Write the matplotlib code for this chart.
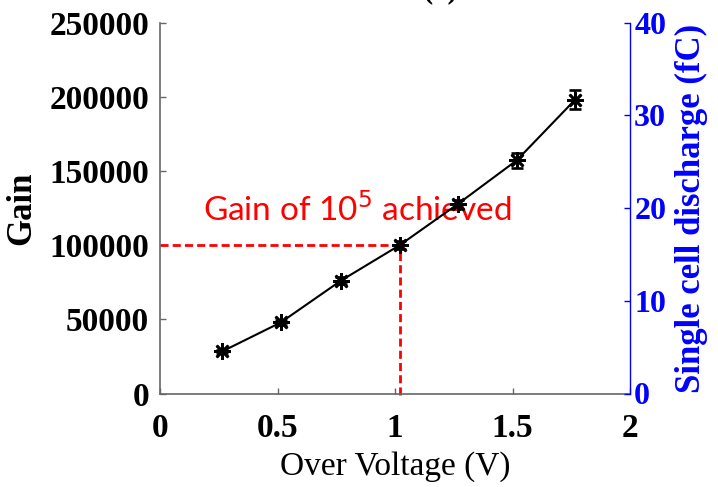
import matplotlib
matplotlib.use("Agg")
import matplotlib.pyplot as plt
import numpy as np

# Data
over_voltage = [0.265, 0.514, 0.770, 1.021, 1.267, 1.518, 1.766]
gain = [28400, 47900, 76100, 100100, 127700, 157200, 198000]
gain_err = [1200, 1500, 2500, 2500, 3000, 5000, 6500]
gain_target = 100000
target_voltage = 1.02
x_ticks = [0, 0.5, 1, 1.5, 2]
x_tick_labels = ["0", "0.5", "1", "1.5", "2"]
y_ticks = [0, 50000, 100000, 150000, 200000, 250000]
y2_ticks = [0, 10, 20, 30, 40]

SERIF = ['Liberation Serif', 'DejaVu Serif']
plt.rcParams['font.family'] = SERIF

fig = plt.figure(figsize=(7.18, 4.87), dpi=100)
ax = fig.add_axes([160/718, 1-393.5/487, 470/718, (393.5-22.7)/487])

ax.errorbar(over_voltage, gain, yerr=gain_err, color='black', lw=1.5,
            marker=(8, 2, 0), ms=12, mew=1.9, capsize=4, elinewidth=1.4,
            capthick=1.4, zorder=3)

dash = (0, (2.9, 1.5))
ax.plot([0, target_voltage], [gain_target, gain_target], color='red', lw=2.0,
        ls=dash, zorder=2, clip_on=False)
ax.plot([target_voltage, target_voltage], [-1000, gain_target], color='red',
        lw=2.0, ls=dash, zorder=2, clip_on=False)

ax.text(0.183, 116200, "Gain of 10$^5$ achieved", color='red',
        family=['Lato', 'DejaVu Sans'], fontsize=24, ha='left', va='baseline')

ax.set_xlim(0, 2)
ax.set_ylim(0, 250000)
ax.set_xticks(x_ticks)
ax.set_xticklabels(x_tick_labels, family=SERIF, fontweight='bold')
ax.set_yticks(y_ticks)
ax.set_yticklabels([str(v) for v in y_ticks], family=SERIF, fontweight='bold')
gray = '#666666'
for s in ['left', 'bottom']:
    ax.spines[s].set_color(gray)
    ax.spines[s].set_linewidth(1.2)
ax.spines['top'].set_visible(False)
ax.spines['right'].set_visible(False)
ax.tick_params(axis='both', direction='in', length=4, width=1.0, color=gray,
               labelsize=24, labelcolor='black')
ax.tick_params(axis='x', pad=14)
ax.tick_params(axis='y', pad=8)
ax.set_xlabel("Over Voltage (V)", fontsize=24, labelpad=5, family=SERIF)
ax.set_ylabel("Gain", fontsize=25, fontweight='bold', labelpad=8, family=SERIF)

ax2 = ax.twinx()
ax2.set_ylim(0, 40)
ax2.set_yticks(y2_ticks)
ax2.set_yticklabels([str(v) for v in y2_ticks], family=SERIF, fontweight='bold')
for s in ['left', 'bottom', 'top']:
    ax2.spines[s].set_visible(False)
ax2.spines['right'].set_color('blue')
ax2.spines['right'].set_linewidth(1.0)
ax2.tick_params(axis='y', direction='in', length=4, width=1.0, color='blue',
                labelsize=23, labelcolor='blue', pad=3)
ax2.set_ylabel("Single cell discharge (fC)", color='blue', fontsize=25,
               fontweight='bold', labelpad=6, family=SERIF)

fig.text(440/718, 1 + 3/487, "(a)", fontsize=22, fontweight='bold',
         ha='center', va='baseline', family=SERIF)

fig.savefig("out.png", dpi=100)
